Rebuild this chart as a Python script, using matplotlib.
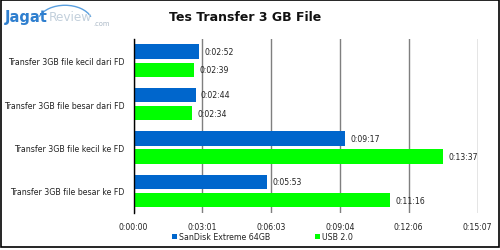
import matplotlib
matplotlib.use("Agg")
import matplotlib.pyplot as plt
from matplotlib.patches import Rectangle, Arc
import numpy as np

categories = ["Transfer 3GB file kecil dari FD",
              "Transfer 3GB file besar dari FD",
              "Transfer 3GB file kecil ke FD",
              "Transfer 3GB file besar ke FD"]
series_names = ["SanDisk Extreme 64GB", "USB 2.0"]
sandisk = ["0:02:52", "0:02:44", "0:09:17", "0:05:53"]
usb2 = ["0:02:39", "0:02:34", "0:13:37", "0:11:16"]
tick_labels = ["0:00:00", "0:03:01", "0:06:03", "0:09:04", "0:12:06", "0:15:07"]
title = "Tes Transfer 3 GB File"

def secs(s):
    h, m, sec = [int(p) for p in s.split(":")]
    return h * 3600 + m * 60 + sec

sd_vals = [secs(s) for s in sandisk]
usb_vals = [secs(s) for s in usb2]
xmax = 907.2

BLUE = "#0066CC"
GREEN = "#00FF00"

fig = plt.figure(figsize=(5.0, 2.51), dpi=100)
ax = fig.add_axes([0.267, 0.149, 0.688, 0.692])

y = np.arange(len(categories))
h = 0.33
off = 0.21
ax.barh(y - off, sd_vals, height=h, color=BLUE, zorder=3, label=series_names[0])
ax.barh(y + off, usb_vals, height=h, color=GREEN, zorder=3, label=series_names[1])

for yi, v, s in zip(y - off, sd_vals, sandisk):
    ax.text(v + 14, yi, s, va="center", ha="left", fontsize=5.6, color="#222222", zorder=4)
for yi, v, s in zip(y + off, usb_vals, usb2):
    ax.text(v + 14, yi, s, va="center", ha="left", fontsize=5.6, color="#222222", zorder=4)

ax.set_ylim(len(categories) - 0.5, -0.5)
ax.set_xlim(0, xmax)
ticks = np.linspace(0, xmax, len(tick_labels))
ax.set_xticks(ticks)
ax.set_xticklabels(tick_labels, fontsize=5.6, color="#222222")
ax.set_yticks(y)
ax.set_yticklabels(categories, fontsize=5.7, color="#222222")
ax.tick_params(axis="y", length=0, pad=6.5)
ax.tick_params(axis="x", length=0, pad=7)
ax.xaxis.grid(True, color="#7f7f7f", linewidth=1.0, zorder=0)
for s in ["top", "right", "bottom"]:
    ax.spines[s].set_visible(False)
ax.spines["left"].set_color("#000000")
ax.spines["left"].set_linewidth(1.0)
ax.spines["left"].set_zorder(5)

fig.text(0.49, 0.93, title, ha="center", va="center", fontsize=9, fontweight="bold", color="#111111")

# legend
leg = fig.legend(loc="center", bbox_to_anchor=(0.525, 0.052), ncol=2, frameon=False,
                 fontsize=5.7, handlelength=0.6, handleheight=0.6, handletextpad=0.3,
                 columnspacing=5.6)
for t in leg.get_texts():
    t.set_color("#222222")

# logo
fig.canvas.draw()
r = fig.canvas.get_renderer()
t1 = fig.text(0.01, 0.93, "Jagat", fontsize=10.5, fontweight="bold", color="#2f7fcf", ha="left", va="center")
bb = t1.get_window_extent(r).transformed(fig.transFigure.inverted())
t2 = fig.text(bb.x1 + 0.002, 0.93, "Review", fontsize=8.7, color="#c3d0dc", ha="left", va="center")
bb2 = t2.get_window_extent(r).transformed(fig.transFigure.inverted())
fig.text(bb2.x1 + 0.002, 0.905, ".com", fontsize=4.8, color="#a8b6c4", ha="left", va="center")
fig.add_artist(Arc((0.13, 0.905), 0.11, 0.14, theta1=25, theta2=155,
                   transform=fig.transFigure, color="#5aa0e0", lw=1.0))

# border
fig.add_artist(Rectangle((0.002, 0.01), 0.996, 0.986, transform=fig.transFigure,
                         fill=False, edgecolor="#000000", linewidth=1.2))

fig.savefig("out.png", dpi=100)
